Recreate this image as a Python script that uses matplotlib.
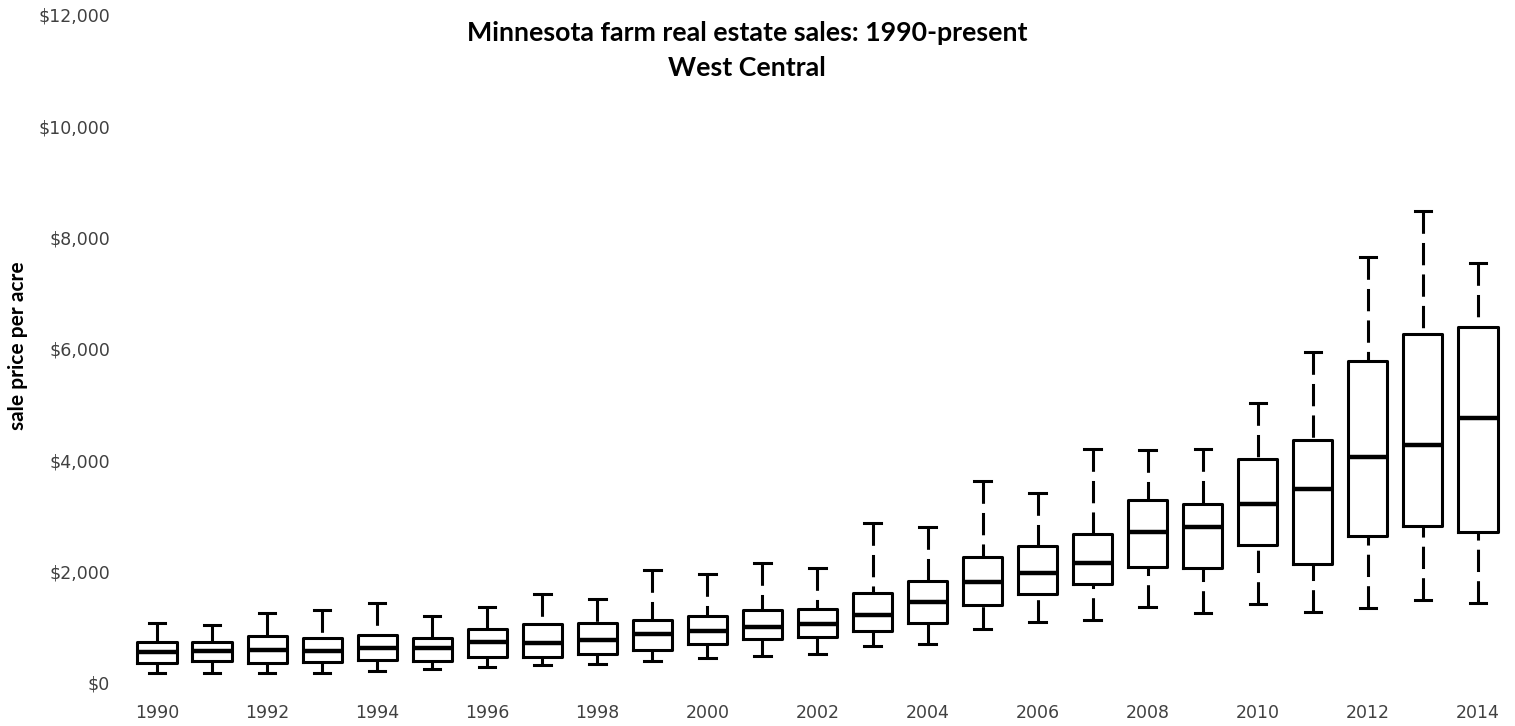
import matplotlib
matplotlib.use("Agg")
import matplotlib.pyplot as plt
from matplotlib.ticker import FuncFormatter

years = list(range(1990, 2015))
whis_lo = [185, 185, 185, 185, 216, 246, 293, 318, 347, 395, 449, 479, 527, 659, 706,
           976, 1096, 1132, 1360, 1253, 1414, 1281, 1342, 1492, 1443]
q1 = [365, 389, 365, 371, 413, 395, 467, 473, 521, 599, 701, 791, 832, 940, 1070,
      1402, 1594, 1774, 2085, 2066, 2480, 2138, 2642, 2827, 2719]
median = [563, 581, 593, 581, 623, 623, 737, 724, 773, 881, 934, 1012, 1060, 1216, 1453,
          1820, 1982, 2162, 2708, 2809, 3211, 3486, 4067, 4271, 4768]
q3 = [742, 737, 839, 809, 868, 814, 976, 1055, 1078, 1132, 1209, 1312, 1335, 1617, 1836,
      2270, 2462, 2672, 3289, 3220, 4025, 4367, 5792, 6272, 6403]
whis_hi = [1083, 1042, 1264, 1312, 1443, 1204, 1360, 1594, 1515, 2036, 1964, 2151, 2067, 2881, 2795,
           3630, 3420, 4210, 4187, 4205, 5037, 5948, 7650, 8487, 7542]

stats = []
for i in range(len(years)):
    stats.append({"med": median[i], "q1": q1[i], "q3": q3[i],
                  "whislo": whis_lo[i], "whishi": whis_hi[i], "fliers": []})

fig = plt.figure(figsize=(15.15, 7.26), dpi=100)
ax = fig.add_axes([120 / 1515, 43 / 726, 1390 / 1515, 668 / 726])

lw = 2.2
parts = ax.bxp(stats, positions=years, widths=0.71, capwidths=0.3, showfliers=False,
               boxprops=dict(color="black", linewidth=lw),
               medianprops=dict(color="black", linewidth=3.2, solid_capstyle="butt"),
               whiskerprops=dict(color="black", linewidth=lw, linestyle=(0, (7.3, 3.0))),
               capprops=dict(color="black", linewidth=lw))
# the dash pattern starts at the cap in the original
for line in parts["whiskers"]:
    xd, yd = line.get_data()
    line.set_data(xd[::-1], yd[::-1])

ax.set_xlim(1989.328, 2014.582)
ax.set_ylim(0, 12000)
ax.set_yticks(range(0, 12001, 2000))
ax.set_xticks(years[::2])
ax.set_xticklabels([str(y) for y in years[::2]])
ax.yaxis.set_major_formatter(FuncFormatter(lambda v, p: "${:,.0f}".format(v)))
ax.tick_params(axis="both", length=0, labelsize=12.5, labelcolor="#404040")
ax.tick_params(axis="y", pad=7.2)
ax.tick_params(axis="x", pad=15)
for s in ax.spines.values():
    s.set_visible(False)

fig.text(747 / 1515, 1 - 33 / 726, "Minnesota farm real estate sales: 1990-present",
         ha="center", va="center", fontsize=19.3, fontweight="bold", family="Lato")
fig.text(747 / 1515, 1 - 68 / 726, "West Central",
         ha="center", va="center", fontsize=19.3, fontweight="bold", family="Lato")
fig.text(18 / 1515, 1 - 346 / 726, "sale price per acre", rotation=90,
         ha="center", va="center", fontsize=15, fontweight="bold", family="Lato")

fig.savefig("out.png", dpi=100)
